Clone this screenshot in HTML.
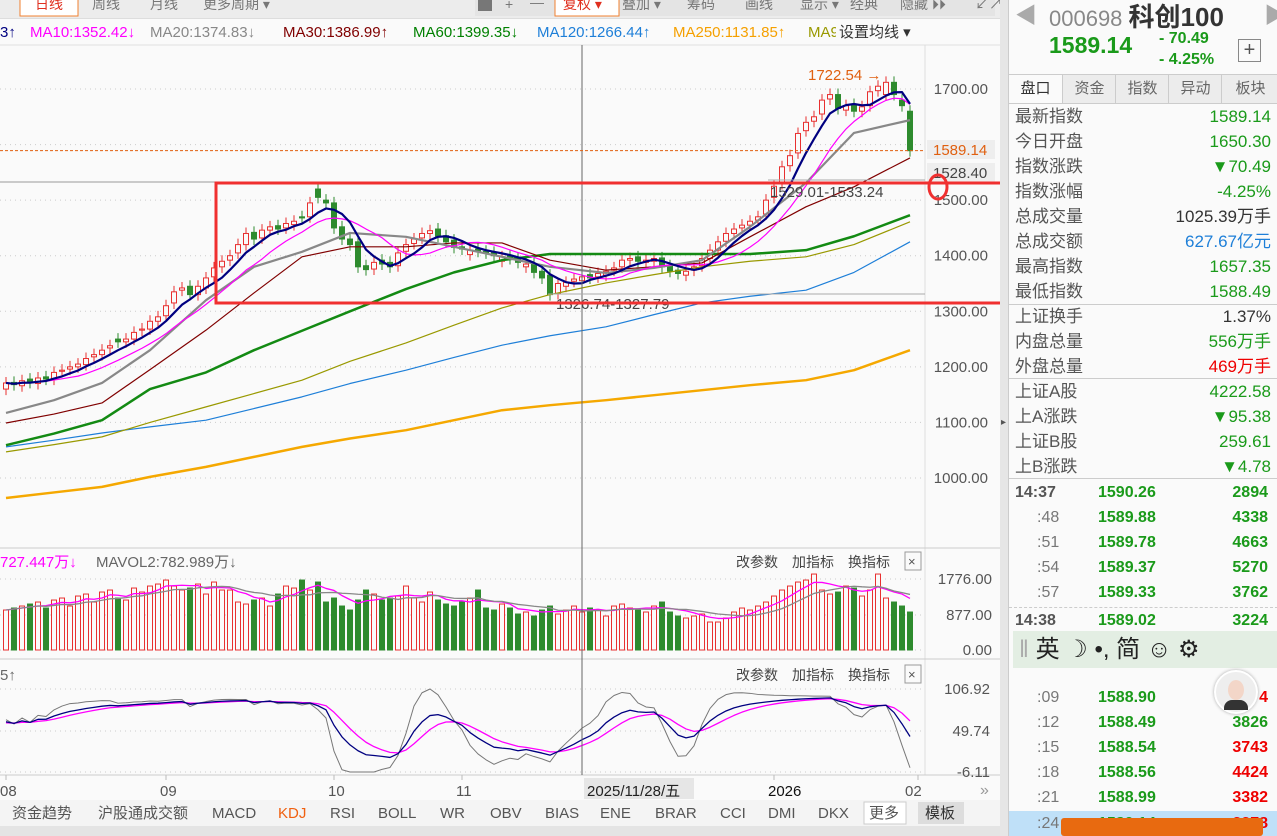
<!DOCTYPE html>
<html><head><meta charset="utf-8">
<style>
body{margin:0;width:1277px;height:836px;overflow:hidden;background:#fafafa;font-family:"Liberation Sans","Noto Sans CJK SC",sans-serif;position:relative}
svg{position:absolute;left:0;top:0}
.rp{position:absolute;left:1008px;top:0;width:269px;height:836px;background:#fafafa;border-left:1px solid #ccc}
.row{position:absolute;left:6px;right:7px;height:25px;font-size:17px;color:#555;line-height:25px}
.row .v{position:absolute;right:0;top:0}
.g{color:#1a9a1a}.r{color:#e00}.b{color:#1e7fd8}.k{color:#333}
.tr{position:absolute;left:0;right:0;height:25px;font-size:16px;font-weight:bold;line-height:25px}
.tr span{position:absolute}
</style></head><body>
<svg width="1008" height="836" font-family="Liberation Sans, Noto Sans CJK SC, sans-serif">
<rect x="0" y="0" width="1000" height="18" fill="#ececec"/>
<rect x="0" y="18" width="1000" height="1" fill="#ddd"/>
<g font-size="14" fill="#777">
<rect x="20" y="-8" width="58" height="24" fill="#fff" stroke="#f08030"/>
<text x="35" y="9" fill="#e03020">日线</text>
<text x="92" y="9">周线</text>
<text x="150" y="9">月线</text>
<text x="203" y="9">更多周期 ▾</text>
<rect x="475" y="-5" width="520" height="21" fill="#e4e4e4"/>
<rect x="478" y="-3" width="14" height="14" fill="#777"/>
<text x="505" y="9">+</text><text x="530" y="7">—</text>
<rect x="555" y="-8" width="64" height="24" fill="#fff" stroke="#f08030"/>
<text x="563" y="9" fill="#e03020">复权 ▾</text>
<text x="622" y="9">叠加 ▾</text>
<text x="687" y="9">筹码</text>
<text x="745" y="9">画线</text>
<text x="800" y="9">显示 ▾</text>
<text x="850" y="9">经典</text>
<text x="900" y="9">隐藏 ⏵⏵</text>
<text x="975" y="9">↙↗</text>
</g>
<g font-size="15">
<text x="0" y="37" fill="#000080">3↑</text>
<text x="30" y="37" fill="#f0f">MA10:1352.42↓</text>
<text x="150" y="37" fill="#888">MA20:1374.83↓</text>
<text x="283" y="37" fill="#800000">MA30:1386.99↑</text>
<text x="413" y="37" fill="#008000">MA60:1399.35↓</text>
<text x="537" y="37" fill="#1e7fd8">MA120:1266.44↑</text>
<text x="673" y="37" fill="#f5a000">MA250:1131.85↑</text>
<text x="808" y="37" fill="#999900">MA9</text>
<rect x="836" y="20" width="80" height="24" fill="#fafafa"/>
<text x="839" y="37" fill="#333">设置均线 ▾</text>
</g>
<line x1="0" y1="45" x2="1000" y2="45" stroke="#e0e0e0"/>
<line x1="925" y1="45" x2="925" y2="775" stroke="#ddd"/>
<g id="grid"></g>
<g id="marks"></g>
<g id="overlay"></g>
</svg>

<div style="position:absolute;left:1000px;top:0;width:8px;height:836px;background:#e6e6e6"><div style="position:absolute;top:417px;left:1px;font-size:10px;color:#555">▸</div></div>

<div class="rp">
<div style="position:absolute;left:6px;top:-2px;font-size:22px;color:#aaa">◀</div>
<div style="position:absolute;left:40px;top:-3px;font-size:22px;color:#888">000698 <b style="color:#333;font-size:26px">科创100</b></div>
<div style="position:absolute;left:255px;top:-2px;font-size:22px;color:#aaa">▶</div>
<div style="position:absolute;left:40px;top:32px;font-size:23px;font-weight:bold;color:#1a9a1a">1589.14</div>
<div style="position:absolute;left:150px;top:28px;font-size:16px;font-weight:bold;color:#1a9a1a;line-height:21px">- 70.49<br>- 4.25%</div>
<div style="position:absolute;left:229px;top:39px;width:21px;height:21px;border:1px solid #888;font-size:20px;line-height:20px;text-align:center;color:#555">+</div>
<div style="position:absolute;left:0;top:74px;width:269px;height:28px;background:#ececec;border-top:1px solid #ccc;border-bottom:1px solid #ccc;font-size:15px;color:#666">
<div style="position:absolute;left:0;width:53px;height:28px;background:#fafafa;text-align:center;line-height:28px;color:#333">盘口</div>
<div style="position:absolute;left:53px;width:53px;text-align:center;line-height:28px;border-left:1px solid #ccc">资金</div>
<div style="position:absolute;left:106px;width:53px;text-align:center;line-height:28px;border-left:1px solid #ccc">指数</div>
<div style="position:absolute;left:159px;width:53px;text-align:center;line-height:28px;border-left:1px solid #ccc">异动</div>
<div style="position:absolute;left:212px;width:57px;text-align:center;line-height:28px;border-left:1px solid #ccc">板块</div>
</div>
<div class="row" style="top:104px">最新指数<span class="v g">1589.14</span></div>
<div class="row" style="top:129px">今日开盘<span class="v g">1650.30</span></div>
<div class="row" style="top:154px">指数涨跌<span class="v g">▼70.49</span></div>
<div class="row" style="top:179px">指数涨幅<span class="v g">-4.25%</span></div>
<div class="row" style="top:204px">总成交量<span class="v k">1025.39万手</span></div>
<div class="row" style="top:229px">总成交额<span class="v b">627.67亿元</span></div>
<div class="row" style="top:254px">最高指数<span class="v g">1657.35</span></div>
<div class="row" style="top:279px">最低指数<span class="v g">1588.49</span></div>
<div style="position:absolute;left:0;right:0;top:304px;border-top:1px solid #ccc"></div>
<div class="row" style="top:304px">上证换手<span class="v k">1.37%</span></div>
<div class="row" style="top:329px">内盘总量<span class="v g">556万手</span></div>
<div class="row" style="top:354px">外盘总量<span class="v r">469万手</span></div>
<div style="position:absolute;left:0;right:0;top:378px;border-top:1px solid #ccc"></div>
<div class="row" style="top:379px">上证A股<span class="v g">4222.58</span></div>
<div class="row" style="top:404px">上A涨跌<span class="v g">▼95.38</span></div>
<div class="row" style="top:429px">上证B股<span class="v g">259.61</span></div>
<div class="row" style="top:454px">上B涨跌<span class="v g">▼4.78</span></div>
<div style="position:absolute;left:0;right:0;top:478px;border-top:1px solid #ccc"></div>
<div>
<div class="tr" style="top:480px"><span style="left:6px;color:#555">14:37</span><span class="g" style="left:89px">1590.26</span><span class="g" style="right:10px">2894</span></div>
<div class="tr" style="top:505px"><span style="left:28px;color:#777;font-weight:normal">:48</span><span class="g" style="left:89px">1589.88</span><span class="g" style="right:10px">4338</span></div>
<div class="tr" style="top:530px"><span style="left:28px;color:#777;font-weight:normal">:51</span><span class="g" style="left:89px">1589.78</span><span class="g" style="right:10px">4663</span></div>
<div class="tr" style="top:555px"><span style="left:28px;color:#777;font-weight:normal">:54</span><span class="g" style="left:89px">1589.37</span><span class="g" style="right:10px">5270</span></div>
<div class="tr" style="top:580px"><span style="left:28px;color:#777;font-weight:normal">:57</span><span class="g" style="left:89px">1589.33</span><span class="g" style="right:10px">3762</span></div>
<div style="position:absolute;left:0;right:0;top:607px;border-top:1px dashed #ccc"></div>
<div class="tr" style="top:608px"><span style="left:6px;color:#555">14:38</span><span class="g" style="left:89px">1589.02</span><span class="g" style="right:10px">3224</span></div>
<div style="position:absolute;left:4px;right:0;top:631px;height:37px;background:#e3eee3;font-size:24px;color:#222;line-height:37px"><span style="color:#aaa;margin-left:6px">‖</span> 英 ☽ •, 简 ☺ ⚙</div>
<div class="tr" style="top:685px"><span style="left:28px;color:#777;font-weight:normal">:09</span><span class="g" style="left:89px">1588.90</span><span class="r" style="right:10px">4</span></div>
<div class="tr" style="top:710px"><span style="left:28px;color:#777;font-weight:normal">:12</span><span class="g" style="left:89px">1588.49</span><span class="g" style="right:10px">3826</span></div>
<div class="tr" style="top:735px"><span style="left:28px;color:#777;font-weight:normal">:15</span><span class="g" style="left:89px">1588.54</span><span class="r" style="right:10px">3743</span></div>
<div class="tr" style="top:760px"><span style="left:28px;color:#777;font-weight:normal">:18</span><span class="g" style="left:89px">1588.56</span><span class="r" style="right:10px">4424</span></div>
<div class="tr" style="top:785px"><span style="left:28px;color:#777;font-weight:normal">:21</span><span class="g" style="left:89px">1588.99</span><span class="r" style="right:10px">3382</span></div>
<div class="tr" style="top:811px;background:#bfe0f8"><span style="left:28px;color:#777;font-weight:normal">:24</span><span class="g" style="left:89px">1589.14</span><span class="r" style="right:10px">2278</span></div>
</div>
<div style="position:absolute;left:205px;top:670px;width:40px;height:40px;border-radius:50%;background:#eee;border:2px solid #fff;box-shadow:0 0 3px #aaa"><div style="position:absolute;left:12px;top:8px;width:16px;height:20px;border-radius:50%;background:#f3d6c8"></div><div style="position:absolute;left:8px;top:28px;width:24px;height:10px;border-radius:8px 8px 0 0;background:#333"></div></div>
<div style="position:absolute;left:52px;top:818px;width:202px;height:18px;background:#e86a10;border-radius:3px"></div>
</div>

<script>
const closes=[1171,1168,1175,1172,1180,1178,1190,1194,1200,1205,1215,1222,1230,1238,1245,1250,1262,1268,1282,1290,1310,1335,1342,1330,1345,1360,1378,1390,1400,1420,1440,1430,1446,1452,1448,1458,1462,1468,1495,1505,1495,1450,1430,1420,1380,1375,1388,1385,1380,1405,1420,1430,1440,1445,1435,1425,1415,1412,1410,1408,1405,1400,1398,1395,1388,1385,1370,1360,1330,1350,1352,1358,1362,1360,1368,1372,1378,1392,1395,1390,1392,1395,1380,1372,1368,1372,1380,1395,1410,1425,1440,1448,1455,1462,1470,1500,1525,1560,1580,1620,1640,1650,1680,1690,1665,1670,1660,1668,1695,1705,1712,1690,1670,1589];
const opens=[1160,1172,1166,1178,1170,1182,1178,1192,1196,1200,1204,1218,1222,1234,1250,1245,1250,1266,1268,1282,1292,1315,1338,1345,1330,1342,1362,1380,1392,1405,1420,1442,1432,1446,1454,1450,1456,1470,1470,1520,1500,1495,1452,1430,1425,1382,1376,1392,1388,1382,1408,1422,1432,1440,1448,1436,1428,1416,1402,1412,1408,1406,1390,1400,1394,1380,1385,1372,1365,1332,1345,1354,1355,1366,1362,1365,1374,1380,1392,1398,1388,1390,1396,1382,1374,1365,1374,1382,1395,1410,1426,1440,1450,1455,1464,1475,1505,1530,1562,1585,1625,1642,1655,1682,1690,1662,1672,1660,1670,1697,1690,1712,1680,1660];
const volumes=[1000,1050,1100,1150,1200,1050,1250,1300,1100,1350,1400,1200,1450,1500,1300,1250,1550,1450,1600,1650,1750,1600,1500,1550,1650,1400,1700,1500,1500,1200,1150,1250,1300,1100,1400,1600,1550,1750,1500,1700,1200,1300,1100,1000,1250,1500,1400,1250,1300,1350,1600,1300,1200,1450,1250,1150,1100,1200,1300,1500,1050,1000,1150,1050,900,950,850,1000,1100,900,1000,1100,950,1050,1000,850,1100,1150,1050,1000,950,1100,1200,950,850,800,850,900,700,700,800,950,1050,1000,1100,1200,1350,1500,1600,1700,1750,1900,1500,1400,1450,1600,1550,1350,1500,1900,1300,1200,1100,950];
const maIdx=[0,6,12,18,25,31,37,43,50,56,62,68,75,81,87,93,100,106,113];
const ma20=[1117,1140,1171,1230,1320,1380,1407,1441,1434,1416,1398,1380,1369,1378,1392,1452,1531,1621,1644];
const ma30=[1099,1115,1135,1195,1266,1333,1398,1416,1416,1423,1423,1392,1374,1380,1387,1434,1488,1524,1576];
const ma60=[1059,1080,1104,1160,1190,1230,1265,1300,1340,1370,1392,1403,1403,1403,1403,1403,1410,1435,1473];
const ma120=[1056,1068,1081,1092,1104,1125,1146,1170,1194,1217,1239,1256,1272,1294,1315,1327,1338,1370,1425];
const ma90=[1047,1060,1074,1100,1128,1152,1176,1210,1243,1275,1306,1330,1351,1366,1380,1390,1398,1420,1461];
const ma250=[964,974,984,1002,1020,1038,1056,1071,1086,1104,1122,1131,1140,1149,1158,1167,1176,1194,1230];
const priceTicks=[1700,1600,1500,1400,1300,1200,1100,1000];
const priceTickLabels=["1700.00","","1500.00","1400.00","1300.00","1200.00","1100.00","1000.00"];
const volTicks=[1776,877,0];
const volTickLabels=["1776.00","877.00","0.00"];
const kdjTicks=[106.92,49.74,-6.11];
const dateLabels=["08","09","10","11","2026","02"];
const dateIdx=[0,20,41,57,96,114];

const NS="http://www.w3.org/2000/svg";
const px=i=>6+8*i;
const py=p=>89+(1700-p)*0.5557;
const vy=v=>650-v*71/1776;
const ky=k=>689+(106.92-k)*0.734;
function el(tag,attrs,parent,txt){const e=document.createElementNS(NS,tag);for(const k in attrs)e.setAttribute(k,attrs[k]);if(txt!==undefined)e.textContent=txt;parent.appendChild(e);return e;}
const grid=document.getElementById('grid'),marks=document.getElementById('marks'),ov=document.getElementById('overlay');

priceTicks.forEach((t,j)=>{
  el('line',{x1:0,x2:925,y1:py(t),y2:py(t),stroke:'#ccc','stroke-dasharray':'1,4'},grid);
  if(priceTickLabels[j]){const e=el('text',{x:988,y:py(t)+5,'font-size':15,fill:'#555','text-anchor':'end'},grid,priceTickLabels[j]);
  
  }
});
el('line',{x1:0,x2:1000,y1:548,y2:548,stroke:'#ccc'},grid);
el('line',{x1:0,x2:1000,y1:659,y2:659,stroke:'#ccc'},grid);
el('line',{x1:0,x2:1000,y1:775,y2:775,stroke:'#ccc'},grid);
volTicks.forEach((t,j)=>{
  el('line',{x1:0,x2:925,y1:vy(t),y2:vy(t),stroke:'#ccc','stroke-dasharray':'1,4'},grid);
  const e=el('text',{x:992,y:vy(t)+5,'font-size':15,fill:'#555','text-anchor':'end'},grid,volTickLabels[j]);
  
  
});
kdjTicks.forEach(t=>{
  el('line',{x1:0,x2:925,y1:ky(t),y2:ky(t),stroke:'#ccc','stroke-dasharray':'1,4'},grid);
  const e=el('text',{x:990,y:ky(t)+5,'font-size':15,fill:'#555','text-anchor':'end'},grid,t.toFixed(2));
  
  
});

closes.forEach((c,i)=>{
  const o=opens[i],up=c>=o,col=up?'#e83030':'#2e8b2e';
  const top=py(Math.max(o,c)),bot=py(Math.min(o,c));
  const w=el('line',{x1:px(i),x2:px(i),y1:top-6,y2:bot+6,stroke:col},marks);
  
  
  const r=el('rect',{x:px(i)-2.5,y:top,width:5,height:Math.max(1,bot-top),fill:up?'#fafafa':col,stroke:col},marks);
  
  
  const v=el('rect',{x:px(i)-2.5,y:vy(volumes[i]),width:5,height:650-vy(volumes[i]),fill:up?'#fafafa':col,stroke:col},marks);
  
  
});
function maOf(arr,n){return arr.map((_,i)=>{const s=arr.slice(Math.max(0,i-n+1),i+1);return s.reduce((a,b)=>a+b,0)/s.length;});}
function line(pts,color,w,name){const p=el('polyline',{points:pts.map(q=>q.join(',')).join(' '),fill:'none',stroke:color,'stroke-width':w,'stroke-linejoin':'round'},marks);
  
  }
line(maIdx.map((k,j)=>[px(k),py(ma250[j])]),'#f5a800',2.5,'ma250-line');
line(maIdx.map((k,j)=>[px(k),py(ma120[j])]),'#1e7fd8',1.2,'ma120-line');
line(maIdx.map((k,j)=>[px(k),py(ma90[j])]),'#999900',1.2,'ma90-line');
line(maIdx.map((k,j)=>[px(k),py(ma60[j])]),'#138a13',2.5,'ma60-line');
line(maIdx.map((k,j)=>[px(k),py(ma30[j])]),'#800000',1.2,'ma30-line');
line(maIdx.map((k,j)=>[px(k),py(ma20[j])]),'#888',2.2,'ma20-line');
line(maOf(closes,10).map((v,i)=>[px(i),py(v)]),'#f0f',1.2,'ma10-line');
line(maOf(closes,5).map((v,i)=>[px(i),py(v)]),'#000080',2.2,'ma5-line');
line(maOf(volumes,5).map((v,i)=>[px(i),vy(v)]),'#f0f',1.3,'mavol1-line');
line(maOf(volumes,10).map((v,i)=>[px(i),vy(v)]),'#888',1.3,'mavol2-line');
// KDJ derived from candles (wick-extended ranges)
let K=60,D=60;const Ks=[],Ds=[],Js=[];
closes.forEach((c,i)=>{let hi=-1e9,lo=1e9;for(let j=Math.max(0,i-8);j<=i;j++){hi=Math.max(hi,closes[j],opens[j]);lo=Math.min(lo,closes[j],opens[j]);}hi+=11;lo-=11;
  const rsv=(c-lo)/(hi-lo)*100;K=2/3*K+rsv/3;D=2/3*D+K/3;Ks.push(K);Ds.push(D);Js.push(3*K-2*D);});
const cl=v=>Math.max(-6.11,Math.min(106.92,v));
line(Js.map((v,i)=>[px(i),ky(cl(v))]),'#777',1,'kdj-j-line');
line(Ds.map((v,i)=>[px(i),ky(cl(v))]),'#f0f',1.3,'kdj-d-line');
line(Ks.map((v,i)=>[px(i),ky(cl(v))]),'#000080',1.3,'kdj-k-line');

function A(e,n,i){}
A(el('line',{x1:582,x2:582,y1:45,y2:775,stroke:'#666'},ov),'crosshair-line','false');
A(el('line',{x1:0,x2:925,y1:py(1589.14),y2:py(1589.14),stroke:'#e06010','stroke-dasharray':'3,2'},ov),'last-price-line','false');
el('rect',{x:927,y:140,width:68,height:19,fill:'#eee'},ov);
A(el('text',{x:933,y:155,'font-size':15,fill:'#e06010'},ov,'1589.14'),'last-price-label','false');
el('rect',{x:927,y:163,width:68,height:19,fill:'#eee'},ov);
el('text',{x:933,y:178,'font-size':15,fill:'#444'},ov,'1528.40');
el('line',{x1:0,x2:216,y1:182,y2:182,stroke:'#999'},ov);
el('line',{x1:768,x2:925,y1:180,y2:180,stroke:'#aaa'},ov);
el('line',{x1:548,x2:925,y1:294,y2:294,stroke:'#aaa'},ov);
A(el('text',{x:770,y:197,'font-size':15,fill:'#444'},ov,'1529.01-1533.24'),'range-high-label','false');
A(el('text',{x:556,y:309,'font-size':15,fill:'#444'},ov,'1326.74-1327.79'),'range-low-label','false');
A(el('text',{x:808,y:80,'font-size':15,fill:'#e06010'},ov,'1722.54 →'),'high-marker','false');
A(el('rect',{x:216,y:183,width:854,height:120,fill:'none',stroke:'#f03030','stroke-width':3},ov),'highlight-box','false');
A(el('ellipse',{cx:938,cy:187,rx:9,ry:12,fill:'none',stroke:'#f03030','stroke-width':3},ov),'highlight-circle','false');
el('text',{x:0,y:567,'font-size':15,fill:'#f0f'},ov,'727.447万↓');
el('text',{x:96,y:567,'font-size':15,fill:'#666'},ov,'MAVOL2:782.989万↓');
el('text',{x:0,y:680,'font-size':15,fill:'#666'},ov,'5↑');
[567,680].forEach(y=>{
  A(el('text',{x:736,y:y,'font-size':14,fill:'#444'},ov,'改参数'),'edit-params-button','true');
  A(el('text',{x:792,y:y,'font-size':14,fill:'#444'},ov,'加指标'),'add-indicator-button','true');
  A(el('text',{x:848,y:y,'font-size':14,fill:'#444'},ov,'换指标'),'switch-indicator-button','true');
  A(el('rect',{x:905,y:y-15,width:16,height:18,fill:'none',stroke:'#999'},ov),'close-panel-button','true');
  el('text',{x:908,y:y-1,'font-size':13,fill:'#555'},ov,'×');
});
dateLabels.forEach((d,j)=>{const x=j===0?0:px(dateIdx[j])-6;
  el('line',{x1:px(dateIdx[j]),x2:px(dateIdx[j]),y1:775,y2:780,stroke:'#bbb'},ov);
  const t=el('text',{x:Math.min(x,905),y:796,'font-size':15,fill:d==='2026'?'#111':'#555'},ov,d);
  
  });
el('rect',{x:584,y:778,width:110,height:21,fill:'#e6e6e6'},ov);
A(el('text',{x:587,y:796,'font-size':15,fill:'#222'},ov,'2025/11/28/五'),'crosshair-date','false');
A(el('text',{x:980,y:795,'font-size':16,fill:'#999'},ov,'»'),'scroll-right-button','true');
el('rect',{x:0,y:800,width:1000,height:26,fill:'#f4f4f4'},ov);
el('rect',{x:0,y:826,width:1000,height:10,fill:'#e4e4e4'},ov);
const tabs=[['资金趋势',12],['沪股通成交额',98],['MACD',212],['KDJ',278],['RSI',330],['BOLL',378],['WR',440],['OBV',490],['BIAS',545],['ENE',600],['BRAR',655],['CCI',720],['DMI',768],['DKX',818]];
tabs.forEach(([t,x])=>{const e=el('text',{x:x,y:818,'font-size':15,fill:t==='KDJ'?'#f06010':'#555'},ov,t);
  
  });
el('rect',{x:864,y:802,width:42,height:22,fill:'#fff',stroke:'#ccc'},ov);
A(el('text',{x:869,y:818,'font-size':15,fill:'#555'},ov,'更多'),'more-tab','true');
el('rect',{x:918,y:802,width:46,height:22,fill:'#ddd'},ov);
A(el('text',{x:925,y:818,'font-size':15,fill:'#333'},ov,'模板'),'template-tab','true');
</script>
</body></html>
